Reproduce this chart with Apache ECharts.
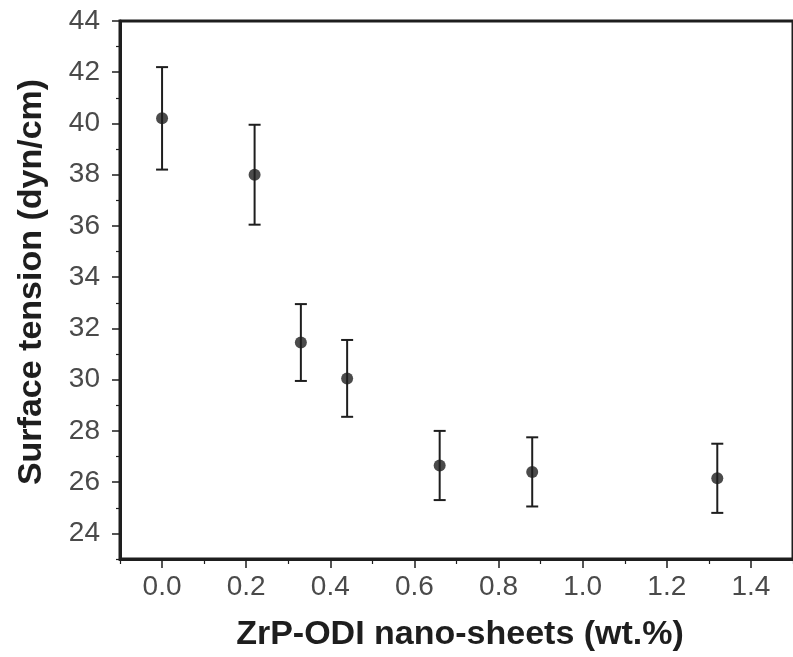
<!DOCTYPE html>
<html>
<head>
<meta charset="utf-8">
<script src="https://cdn.jsdelivr.net/npm/echarts@6/dist/echarts.min.js"></script>
<style>
html,body{margin:0;padding:0;background:#fff;}
#chart{width:793px;height:657px;}
</style>
</head>
<body>
<div id="chart"></div>
<script>
// Data
var loadings = [0.0, 0.22, 0.33, 0.44, 0.66, 0.88, 1.32];        // ZrP-ODI nano-sheets (wt.%)
var tensions = [40.2, 38.0, 31.45, 30.05, 26.65, 26.4, 26.15];   // Surface tension (dyn/cm)
var errors   = [2.0, 1.95, 1.5, 1.5, 1.35, 1.35, 1.35];          // +/- error
var xMajorTicks = [0.0, 0.2, 0.4, 0.6, 0.8, 1.0, 1.2, 1.4];
var xMinorTicks = [-0.1, 0.1, 0.3, 0.5, 0.7, 0.9, 1.1, 1.3, 1.5];
var yMajorTicks = [24, 26, 28, 30, 32, 34, 36, 38, 40, 42, 44];
var yMinorTicks = [23, 25, 27, 29, 31, 33, 35, 37, 39, 41, 43];
var xTitle = 'ZrP-ODI nano-sheets (wt.%)';
var yTitle = 'Surface tension (dyn/cm)';

var INK = '#1e1e1e';
var LABEL = '#4a4a4a';
var tickFont = '"Liberation Sans", Arial, sans-serif';

var points = loadings.map(function (x, i) { return [x, tensions[i]]; });
var bars = loadings.map(function (x, i) { return [x, tensions[i] - errors[i], tensions[i] + errors[i]]; });

var chart = echarts.init(document.getElementById('chart'), null, {renderer: 'canvas'});

var option = {
  animation: false,
  backgroundColor: '#ffffff',
  grid: {
    left: 120, top: 21, bottom: 98, right: -5,
    show: true, borderColor: INK, borderWidth: 3, backgroundColor: 'transparent'
  },
  xAxis: [{
    type: 'value', min: -0.1, max: 1.5, interval: 0.1,
    axisLine: {show: true, onZero: false, lineStyle: {color: INK, width: 3}},
    axisTick: {show: true, inside: false, length: 9, customValues: xMajorTicks, lineStyle: {color: INK, width: 1.5}},
    minorTick: {show: false},
    splitLine: {show: false},
    axisLabel: {
      customValues: xMajorTicks, margin: 14, color: LABEL,
      fontFamily: tickFont, fontSize: 28,
      formatter: function (v) { return v.toFixed(1); }
    }
  }, {
    type: 'value', min: -0.1, max: 1.5, interval: 0.1, position: 'bottom',
    axisLine: {show: false, onZero: false},
    axisTick: {show: true, length: 5, customValues: xMinorTicks, lineStyle: {color: INK, width: 1.2}},
    axisLabel: {show: false}, splitLine: {show: false}
  }],
  yAxis: [{
    type: 'value', min: 23, max: 44, interval: 1,
    axisLine: {show: true, onZero: false, lineStyle: {color: INK, width: 3}},
    axisTick: {show: true, length: 8, customValues: yMajorTicks, lineStyle: {color: INK, width: 1.5}},
    splitLine: {show: false},
    axisLabel: {
      customValues: yMajorTicks, margin: 20, color: LABEL,
      fontFamily: tickFont, fontSize: 28
    }
  }, {
    type: 'value', min: 23, max: 44, interval: 1, position: 'left',
    axisLine: {show: false, onZero: false},
    axisTick: {show: true, length: 4, customValues: yMinorTicks, lineStyle: {color: INK, width: 1.2}},
    axisLabel: {show: false}, splitLine: {show: false}
  }],
  graphic: [{
    type: 'text', x: 32, y: 282, rotation: Math.PI / 2,
    style: {
      text: yTitle, fill: INK, font: 'bold 34px "Liberation Sans", Arial, sans-serif',
      align: 'center', verticalAlign: 'middle'
    }
  }, {
    type: 'text', x: 460, y: 635,
    style: {
      text: xTitle, fill: INK, font: 'bold 34px "Liberation Sans", Arial, sans-serif',
      align: 'center', verticalAlign: 'middle'
    }
  }],
  series: [{
    type: 'custom',
    xAxisIndex: 0, yAxisIndex: 0,
    data: bars,
    renderItem: function (params, api) {
      var x = api.value(0);
      var lo = api.coord([x, api.value(1)]);
      var hi = api.coord([x, api.value(2)]);
      var cap = 6;
      var ls = {stroke: INK, lineWidth: 2};
      return {
        type: 'group',
        children: [
          {type: 'line', shape: {x1: lo[0], y1: lo[1], x2: hi[0], y2: hi[1]}, style: ls},
          {type: 'line', shape: {x1: hi[0] - cap, y1: hi[1], x2: hi[0] + cap, y2: hi[1]}, style: ls},
          {type: 'line', shape: {x1: lo[0] - cap, y1: lo[1], x2: lo[0] + cap, y2: lo[1]}, style: ls}
        ]
      };
    },
    z: 2
  }, {
    type: 'scatter',
    xAxisIndex: 0, yAxisIndex: 0,
    data: points,
    symbol: 'circle', symbolSize: 12,
    itemStyle: {color: INK},
    z: 3
  }]
};
chart.setOption(option);
</script>
</body>
</html>
